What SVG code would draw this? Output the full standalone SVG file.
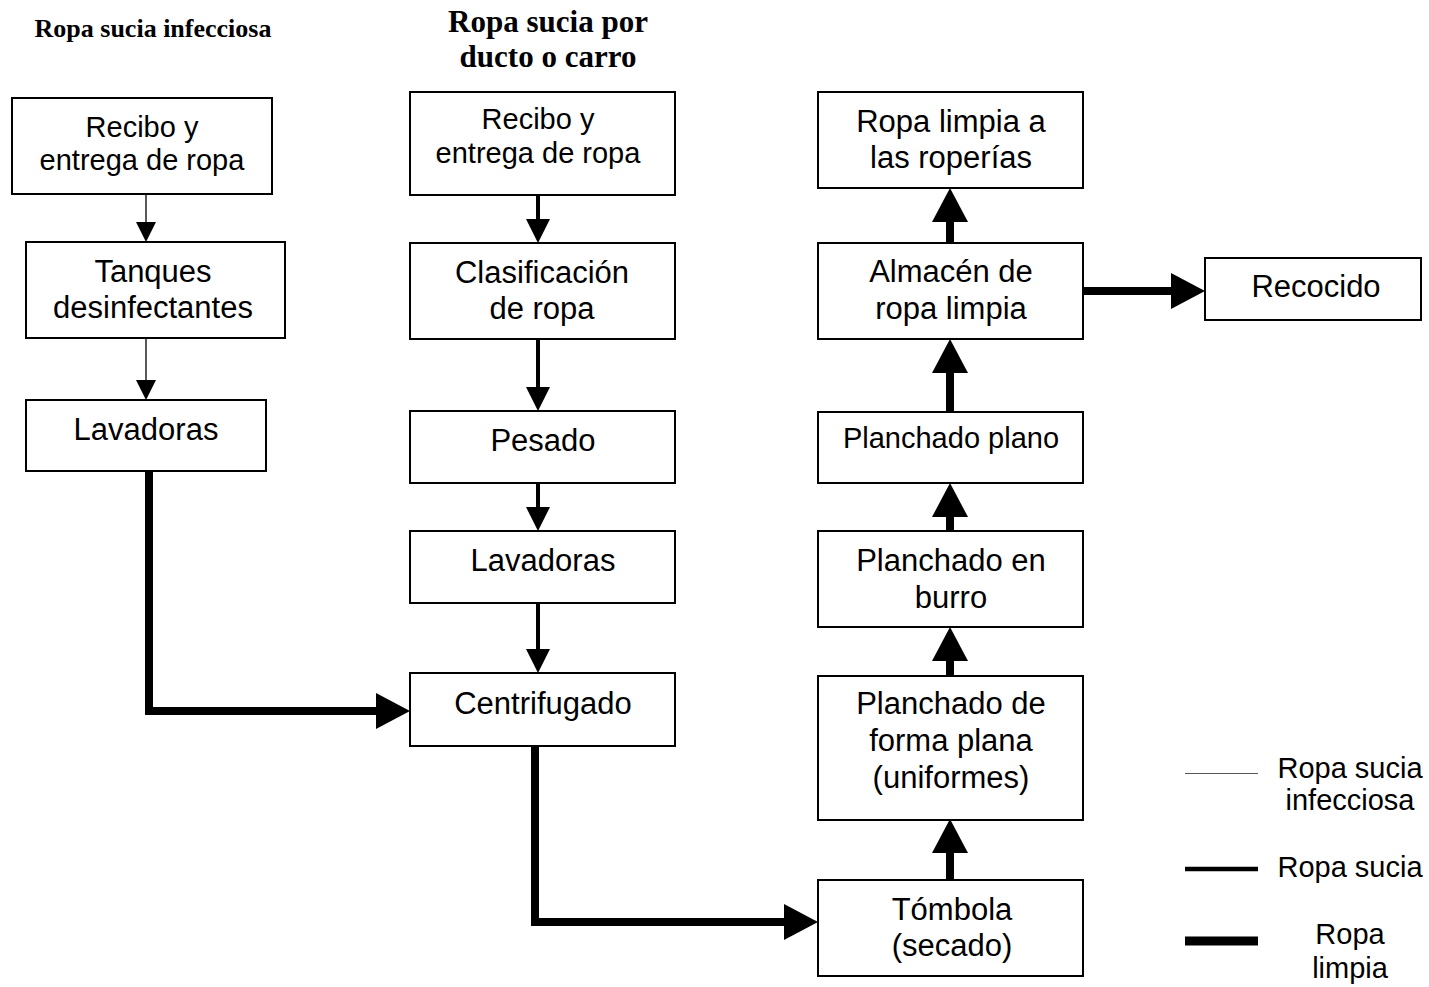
<svg xmlns="http://www.w3.org/2000/svg" width="1429" height="987" viewBox="0 0 1429 987">
<style>
.box{fill:#fff;stroke:#000;stroke-width:2}
.t{font-family:"Liberation Sans",Arial,sans-serif;font-size:31px;fill:#000;text-anchor:middle}
.s{font-size:29px}
.title{font-family:"Liberation Serif","Times New Roman",serif;font-weight:bold;fill:#000;text-anchor:middle}
.thin{fill:none;stroke:#222;stroke-width:1.5}
.med{fill:none;stroke:#000;stroke-width:4}
.thick{fill:none;stroke:#000;stroke-width:8}
</style>
<defs>
<marker id="hThin" markerUnits="userSpaceOnUse" markerWidth="20" markerHeight="20" refX="0" refY="10" orient="auto" overflow="visible"><path d="M0,0 L20,10 L0,20 z" fill="#000"/></marker>
<marker id="hMed" markerUnits="userSpaceOnUse" markerWidth="24" markerHeight="24" refX="0" refY="12" orient="auto" overflow="visible"><path d="M0,0 L24,12 L0,24 z" fill="#000"/></marker>
<marker id="hThick" markerUnits="userSpaceOnUse" markerWidth="34" markerHeight="36" refX="0" refY="18" orient="auto" overflow="visible"><path d="M0,0 L34,18 L0,36 z" fill="#000"/></marker>
</defs>
<rect width="1429" height="987" fill="#fff"/>

<g id="titles">
<text class="title" x="153" y="37" font-size="26">Ropa sucia infecciosa</text>
<text class="title" x="548" y="32" font-size="31">Ropa sucia por</text>
<text class="title" x="548" y="67" font-size="31">ducto o carro</text>
</g>

<g id="connectors">
<path class="thin" d="M146,194 V222" marker-end="url(#hThin)"/>
<path class="thin" d="M146,338 V380" marker-end="url(#hThin)"/>
<path class="thick" d="M149,471 V711 H376" marker-end="url(#hThick)"/>
<path class="med" d="M538,195 V219" marker-end="url(#hMed)"/>
<path class="med" d="M538,339 V387" marker-end="url(#hMed)"/>
<path class="med" d="M538,483 V507" marker-end="url(#hMed)"/>
<path class="med" d="M538,603 V649" marker-end="url(#hMed)"/>
<path class="thick" d="M535,746 V922 H784" marker-end="url(#hThick)"/>
<path class="thick" d="M950,880 V853" marker-end="url(#hThick)"/>
<path class="thick" d="M950,676 V661" marker-end="url(#hThick)"/>
<path class="thick" d="M950,531 V517" marker-end="url(#hThick)"/>
<path class="thick" d="M950,412 V373" marker-end="url(#hThick)"/>
<path class="thick" d="M950,243 V222" marker-end="url(#hThick)"/>
<path class="thick" d="M1083,291 H1171" marker-end="url(#hThick)"/>
</g>

<g id="inf-recibo"><rect class="box" x="12" y="98" width="260" height="96"/>
<text class="t s" x="142" y="137">Recibo y</text><text class="t s" x="142" y="170">entrega de ropa</text></g>
<g id="inf-tanques"><rect class="box" x="26" y="242" width="259" height="96"/>
<text class="t" x="153" y="282">Tanques</text><text class="t" x="153" y="318">desinfectantes</text></g>
<g id="inf-lavadoras"><rect class="box" x="26" y="400" width="240" height="71"/>
<text class="t" x="146" y="440">Lavadoras</text></g>

<g id="recibo"><rect class="box" x="410" y="92" width="265" height="103"/>
<text class="t s" x="538" y="129">Recibo y</text><text class="t s" x="538" y="163">entrega de ropa</text></g>
<g id="clasificacion"><rect class="box" x="410" y="243" width="265" height="96"/>
<text class="t" x="542" y="283">Clasificación</text><text class="t" x="542" y="319">de ropa</text></g>
<g id="pesado"><rect class="box" x="410" y="411" width="265" height="72"/>
<text class="t" x="543" y="451">Pesado</text></g>
<g id="lavadoras"><rect class="box" x="410" y="531" width="265" height="72"/>
<text class="t" x="543" y="571">Lavadoras</text></g>
<g id="centrifugado"><rect class="box" x="410" y="673" width="265" height="73"/>
<text class="t" x="543" y="714">Centrifugado</text></g>

<g id="roperias"><rect class="box" x="818" y="92" width="265" height="96"/>
<text class="t" x="951" y="132">Ropa limpia a</text><text class="t" x="951" y="168">las roperías</text></g>
<g id="almacen"><rect class="box" x="818" y="243" width="265" height="96"/>
<text class="t" x="951" y="282">Almacén de</text><text class="t" x="951" y="319">ropa limpia</text></g>
<g id="recocido"><rect class="box" x="1205" y="258" width="216" height="62"/>
<text class="t" x="1316" y="297">Recocido</text></g>
<g id="planchado-plano"><rect class="box" x="818" y="412" width="265" height="71"/>
<text class="t s" x="951" y="448">Planchado plano</text></g>
<g id="planchado-burro"><rect class="box" x="818" y="531" width="265" height="96"/>
<text class="t" x="951" y="571">Planchado en</text><text class="t" x="951" y="608">burro</text></g>
<g id="planchado-forma"><rect class="box" x="818" y="676" width="265" height="144"/>
<text class="t" x="951" y="714">Planchado de</text><text class="t" x="951" y="751">forma plana</text><text class="t" x="951" y="788">(uniformes)</text></g>
<g id="tombola"><rect class="box" x="818" y="880" width="265" height="96"/>
<text class="t" x="952" y="920">Tómbola</text><text class="t" x="952" y="956">(secado)</text></g>

<g id="legend">
<path d="M1185,773.5 H1258" stroke="#555" stroke-width="1.2" fill="none"/>
<text class="t s" x="1350" y="778">Ropa sucia</text><text class="t s" x="1350" y="810">infecciosa</text>
<path d="M1185,869 H1258" stroke="#000" stroke-width="4.5" fill="none"/>
<text class="t s" x="1350" y="877">Ropa sucia</text>
<path d="M1185,941 H1258" stroke="#000" stroke-width="9" fill="none"/>
<text class="t s" x="1350" y="944">Ropa</text><text class="t s" x="1350" y="978">limpia</text>
</g>
</svg>
